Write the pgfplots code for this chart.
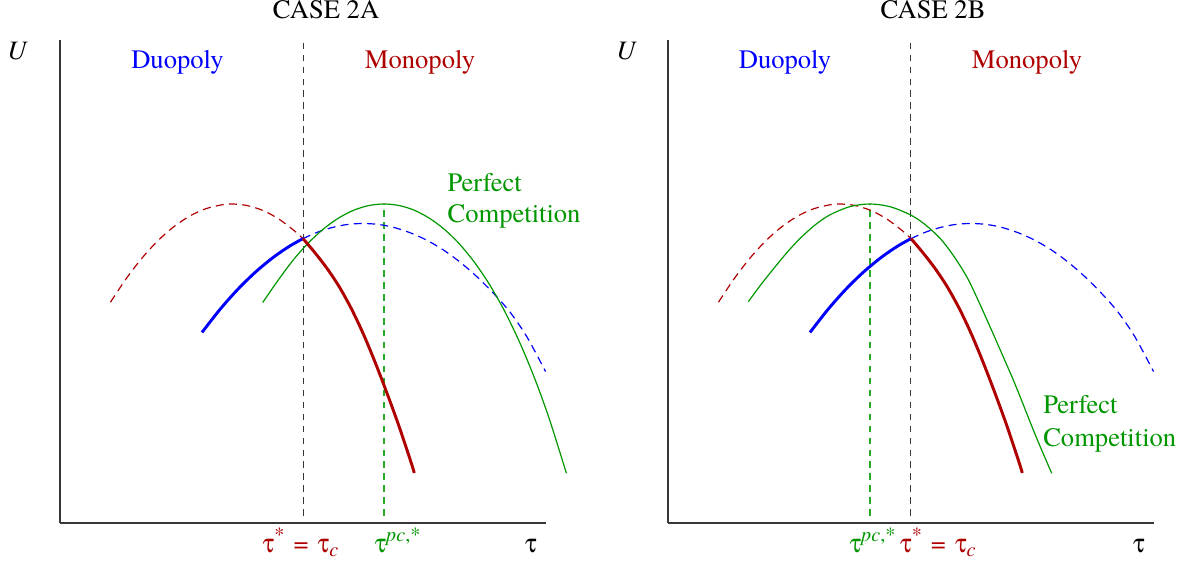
\documentclass[border=0pt]{standalone}
\usepackage{fontspec}
\setmainfont{texgyretermes}[Extension=.otf, UprightFont=*-regular, ItalicFont=*-italic, BoldFont=*-bold, BoldItalicFont=*-bolditalic]
\usepackage{pgfplots}
\pgfplotsset{compat=1.18}
\definecolor{dred}{RGB}{175,0,0}
\definecolor{dgreen}{RGB}{0,150,0}
\definecolor{lgreen}{RGB}{40,170,40}
\definecolor{axgray}{RGB}{55,55,55}
\newcommand{\tu}{{\usefont{U}{psy}{m}{n}t}}
\newcommand{\supr}[1]{\raisebox{0.9ex}{\fontsize{7.6}{9}\selectfont #1}}
\newcommand{\tauc}{\tu\supr{*}\hspace{3.4pt}=\hspace{3.4pt}\tu\raisebox{-0.35ex}{\fontsize{7.6}{9}\selectfont\textit{c}}}
\newcommand{\taupc}{\tu\supr{\textit{pc},*}}
\pgfplotsset{panel/.style={
  x=0.376pt, y=0.376pt, xmin=0, xmax=486, ymin=0, ymax=483,
  axis x line=bottom, axis y line=left,
  axis line style={draw=axgray, line width=0.55pt, -},
  xtick=\empty, ytick=\empty, clip=false, anchor=south west}}
\tikzset{
  thickc/.style={line width=1.1pt, smooth},
  thinc/.style={line width=0.45pt, smooth},
  dashc/.style={line width=0.45pt, smooth, dash pattern=on 3pt off 2pt},
  vdash/.style={line width=0.5pt, dash pattern=on 2.5pt off 2pt}}
\pgfplotstableread{
x y
50.5 220.8
66.5 244.8
82.5 265.5
98.5 282.9
114.5 296.8
130.5 307.4
146.5 314.5
162.5 318.3
172.5 319
186.5 317.6
202.5 312.7
218.5 304.2
234.5 292.1
243 284.2
}\monodash
\pgfplotstableread{
x y
243 284.4
258 291
273 295.7
288 298.6
303 299.5
318 298.6
333 295.8
350 290.3
366 283.2
383 273.3
400 260.9
416 247.1
433 230.2
450 210.9
467 186
485.5 151.5
}\duodash
\pgfplotstableread{
x y
142 190.6
160 213.6
178 233.9
196 251.4
214 266.2
230 277.1
243 284.4
}\duosolid
\pgfplotstableread{
x y
243 284.4
255 270.2
267 254.6
279 236.6
291 215
303 189.8
315 161
327 129.8
339 96.8
351 60.8
354.3 50
}\monosolid
\pgfplotstableread{
x y
202.7 220.5
219 244
234 263.9
249 280.7
264 294.5
279 305.2
294 312.9
309 317.5
324 319
339 317.5
354 312.9
369 305.0
384 294.0
399 279.5
414 261.3
429 239.3
444 213.0
459 182.1
474 146.3
489 105.0
506.4 49.7
}\pcA
\pgfplotstableread{
x y
80.3 221.3
93 238.5
105.3 254
119 270.5
132 284.5
147 298
162 308.2
182 316.4
202 319
222 316.3
242.7 308
257 298.5
272 284.7
285 268
298.7 246.3
310 223
322 196.3
334 169
345.3 143
355 119
365.3 93
374.5 71
383.7 49.7
}\pcB
\begin{document}
\begin{tikzpicture}
\useasboundingbox (0,0) rectangle (1187*0.376pt, 567*0.376pt);
% ---------------- CASE 2A ----------------
\begin{axis}[panel, at={(60*0.376pt, 44*0.376pt)}]
\addplot[vdash, axgray] coordinates {(243.3,7) (243.3,483)};
\addplot[vdash, lgreen] coordinates {(324,7) (324,319)};
\addplot[dashc, dred] table {\monodash};
\addplot[dashc, blue] table {\duodash};
\addplot[thinc, dgreen] table {\pcA};
\addplot[thickc, blue] table {\duosolid};
\addplot[thickc, dred] table {\monosolid};
\node[anchor=base] at (axis cs:266,504) {CASE 2A};
\node[anchor=base] at (axis cs:-42.5,463.5) {\textit{U}};
\node[anchor=base, text=blue] at (axis cs:117.5,454) {Duopoly};
\node[anchor=base, text=dred] at (axis cs:360,454) {Monopoly};
\node[anchor=base west, inner sep=0pt, text=dgreen] at (axis cs:387,331) {Perfect};
\node[anchor=base west, inner sep=0pt, text=dgreen] at (axis cs:387,300) {Competition};
\node[anchor=base, inner sep=0pt, text=dred] at (axis cs:240.5,-29) {\tauc};
\node[anchor=base west, inner sep=0pt, text=dgreen] at (axis cs:314,-29) {\taupc};
\node[anchor=base, inner sep=0pt] at (axis cs:471,-29) {\tu};
\end{axis}
% ---------------- CASE 2B ----------------
\begin{axis}[panel, xmax=485.6, at={(668*0.376pt, 44*0.376pt)}]
\addplot[vdash, axgray] coordinates {(242.7,7) (242.7,483)};
\addplot[vdash, lgreen] coordinates {(202,7) (202,319)};
\addplot[dashc, dred] table {\monodash};
\addplot[dashc, blue] table {\duodash};
\addplot[thinc, dgreen] table {\pcB};
\addplot[thickc, blue] table {\duosolid};
\addplot[thickc, dred] table {\monosolid};
\node[anchor=base] at (axis cs:265,504) {CASE 2B};
\node[anchor=base] at (axis cs:-41.5,463.5) {\textit{U}};
\node[anchor=base, text=blue] at (axis cs:117,454) {Duopoly};
\node[anchor=base, text=dred] at (axis cs:359,454) {Monopoly};
\node[anchor=base west, inner sep=0pt, text=dgreen] at (axis cs:374.7,109.7) {Perfect};
\node[anchor=base west, inner sep=0pt, text=dgreen] at (axis cs:374.7,76.3) {Competition};
\node[anchor=base west, inner sep=0pt, text=dgreen] at (axis cs:181,-29) {\taupc};
\node[anchor=base west, inner sep=0pt, text=dred] at (axis cs:231.6,-29) {\tauc};
\node[anchor=base, inner sep=0pt] at (axis cs:471,-29) {\tu};
\end{axis}
\end{tikzpicture}
\end{document}
